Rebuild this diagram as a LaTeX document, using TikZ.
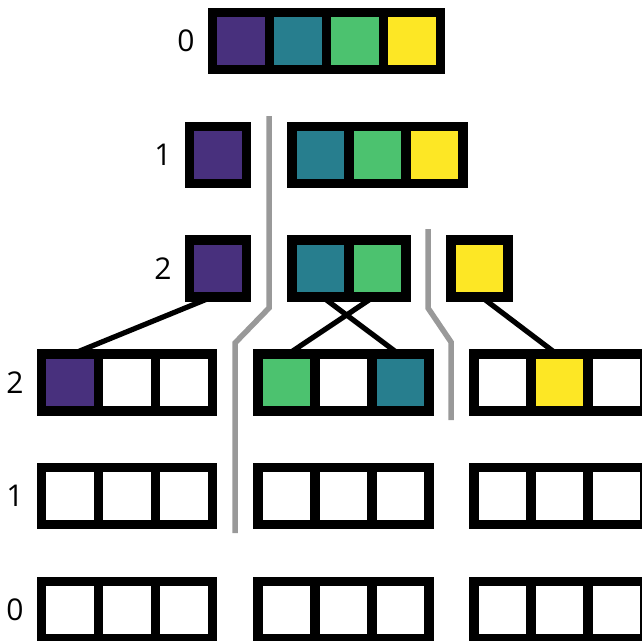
\documentclass[tikz,border=0pt]{standalone}
\usepackage{fontspec}
\setmainfont{Open Sans}
\definecolor{vpurple}{HTML}{48307D}
\definecolor{vteal}{HTML}{277E8E}
\definecolor{vgreen}{HTML}{4CC26F}
\definecolor{vyellow}{HTML}{FDE725}
\definecolor{sepgray}{HTML}{999999}
\begin{document}
\begin{tikzpicture}[x=1pt,y=-1pt,
  cell/.style={draw=black, line width=9.4pt, minimum size=57pt, inner sep=0pt, outer sep=0pt, fill=white},
  lvl/.style={font=\fontsize{30}{30}\selectfont, inner sep=0pt},
  link/.style={draw=black, line width=5.2pt},
  sep/.style={draw=sepgray, line width=5.5pt}]
\useasboundingbox (0,0) rectangle (642,640);
\clip (0,0) rectangle (642,640);
% level labels
\node[lvl] (t0) at (186,41) {0};
\node[lvl] (t1) at (163,155) {1};
\node[lvl] (t2) at (163,268.5) {2};
\node[lvl] (b2) at (15,382.5) {2};
\node[lvl] (b1) at (15,496) {1};
\node[lvl] (b0) at (15,610) {0};
% level 0 top
\node[cell, fill=vpurple] (a1) at (240.7,41) {};
\node[cell, fill=vteal]   (a2) at (297.7,41) {};
\node[cell, fill=vgreen]  (a3) at (354.7,41) {};
\node[cell, fill=vyellow] (a4) at (411.7,41) {};
% level 1
\node[cell, fill=vpurple] (b1p) at (218,155) {};
\node[cell, fill=vteal]   (b1t) at (320.5,155) {};
\node[cell, fill=vgreen]  (b1g) at (377.5,155) {};
\node[cell, fill=vyellow] (b1y) at (434.5,155) {};
% level 2
\node[cell, fill=vpurple] (c2p) at (218,268.5) {};
\node[cell, fill=vteal]   (c2t) at (320.5,268.5) {};
\node[cell, fill=vgreen]  (c2g) at (377.5,268.5) {};
\node[cell, fill=vyellow] (c2y) at (479.5,268.5) {};
% separators
\draw[sep] (269,116) -- (269,308) -- (235,343) -- (235,533);
\draw[sep] (428,229) -- (428,308) -- (451,342) -- (451,420);
% bottom rows
\foreach \r/\y in {2/382.3,1/496,0/610}{
  \foreach \k/\x in {1/69.9,2/126.9,3/183.9}{ \node[cell] (L\r\k) at (\x,\y) {}; }
  \foreach \k/\x in {1/286.5,2/343.5,3/400.5}{ \node[cell] (M\r\k) at (\x,\y) {}; }
  \foreach \k/\x in {1/502.5,2/559.5,3/616.5}{ \node[cell] (R\r\k) at (\x,\y) {}; }
}
\node[cell, fill=vpurple] at (L21) {};
\node[cell, fill=vgreen]  at (M21) {};
\node[cell, fill=vteal]   at (M23) {};
\node[cell, fill=vyellow] at (R22) {};
% connectors
\draw[link] ([xshift=-6pt]c2p.south) -- ([xshift=3pt]L21.north);
\draw[link] ([xshift=2pt]c2t.south) -- ([xshift=-2pt]M23.north);
\draw[link] ([xshift=-4pt]c2g.south) -- ([xshift=2pt]M21.north);
\draw[link] ([xshift=2pt]c2y.south) -- ([xshift=-3pt]R22.north);
\end{tikzpicture}
\end{document}
